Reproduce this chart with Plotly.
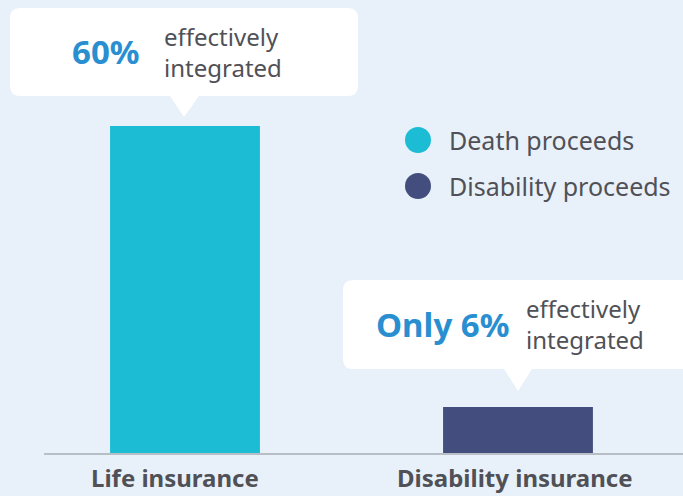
import plotly.graph_objects as go

# ---- data ----
categories = ["Life insurance", "Disability insurance"]
series_names = ["Death proceeds", "Disability proceeds"]
values = [60, 6]                     # % effectively integrated
callout_lead = ["60%", "Only 6%"]
callout_tail = "effectively<br>integrated"

# ---- style ----
W, H = 683, 496
BG = "#e8f0f9"
colors = ["#1bbcd4", "#434e7e"]
BLUE = "#2a8fd0"
GRAY = "#505157"
FONT = "Noto Sans"

ML, MR, MT, MB = 44, 0, 0, 43
PW, PH = W - ML - MR, H - MT - MB
Y_MIN, Y_MAX = -2.84, 84.2
X_MIN, X_MAX = -0.4234, 1.4955


def px(x):
    return (x - ML) / PW


def py(y):
    return (MT + PH - y) / PH


fig = go.Figure()
for i, (name, v, c) in enumerate(zip(series_names, values, colors)):
    fig.add_trace(go.Bar(
        x=[i], y=[v - Y_MIN], base=[Y_MIN], name=name,
        marker=dict(color=c, line=dict(width=0)), width=0.45,
        showlegend=False, hoverinfo="skip",
    ))


def callout(x0, y0, x1, y1, pb0, pb1, tip, r=10):
    tx, ty = tip
    d = (f"M {px(x0 + r)},{py(y0)} L {px(x1 - r)},{py(y0)} "
         f"Q {px(x1)},{py(y0)} {px(x1)},{py(y0 + r)} "
         f"L {px(x1)},{py(y1 - r)} Q {px(x1)},{py(y1)} {px(x1 - r)},{py(y1)} "
         f"L {px(pb1)},{py(y1)} L {px(tx)},{py(ty)} L {px(pb0)},{py(y1)} "
         f"L {px(x0 + r)},{py(y1)} Q {px(x0)},{py(y1)} {px(x0)},{py(y1 - r)} "
         f"L {px(x0)},{py(y0 + r)} Q {px(x0)},{py(y0)} {px(x0 + r)},{py(y0)} Z")
    return dict(type="path", path=d, xref="paper", yref="paper",
                fillcolor="white", line=dict(width=0), layer="above")


shapes = [
    callout(10, 8, 358, 96, 170, 199, (184, 117)),
    callout(343, 280, 720, 369, 504, 532, (518, 391)),
]

annotations = []
# callout texts
lead_pos = [(106, 51), (442, 324)]
tail_pos = [(162, 52), (524, 324)]
for lead, (lx, ly), (tx, ty) in zip(callout_lead, lead_pos, tail_pos):
    annotations.append(dict(text=f"<b>{lead}</b>", x=px(lx), y=py(ly), xref="paper", yref="paper",
                            xanchor="center", yanchor="middle", showarrow=False,
                            font=dict(family=FONT, size=33, color=BLUE)))
    annotations.append(dict(text=callout_tail, x=px(tx), y=py(ty), xref="paper", yref="paper",
                            xanchor="left", yanchor="middle", align="left", showarrow=False,
                            font=dict(family=FONT, size=24, color=GRAY)))

# legend
leg_y = [140, 186]
for name, c, ly in zip(series_names, colors, leg_y):
    shapes.append(dict(type="circle", xref="paper", yref="paper",
                       x0=px(405), x1=px(431), y0=py(ly - 13), y1=py(ly + 13),
                       fillcolor=c, line=dict(width=0)))
    annotations.append(dict(text=name, x=px(447), y=py(ly), xref="paper", yref="paper",
                            xanchor="left", yanchor="middle", showarrow=False,
                            font=dict(family=FONT, size=25, color=GRAY)))

# category labels
cat_shift = [-10, -3]
for i, (cat, sh) in enumerate(zip(categories, cat_shift)):
    annotations.append(dict(text=f"<b>{cat}</b>", x=i, xshift=sh, y=py(496), xref="x", yref="paper",
                            xanchor="center", yanchor="bottom", showarrow=False,
                            font=dict(family=FONT, size=24, color=GRAY)))

fig.update_layout(
    width=W, height=H,
    margin=dict(l=ML, r=MR, t=MT, b=MB, pad=0),
    paper_bgcolor=BG, plot_bgcolor=BG,
    xaxis=dict(range=[X_MIN, X_MAX], showgrid=False, zeroline=False, showticklabels=False,
               ticks="", showline=True, linecolor="#b8bec6", linewidth=2, fixedrange=True),
    yaxis=dict(range=[Y_MIN, Y_MAX], showgrid=False, zeroline=False, showticklabels=False,
               ticks="", showline=False, fixedrange=True),
    shapes=shapes, annotations=annotations,
    barmode="overlay", showlegend=False,
)

fig.write_html("out.html", config={"displayModeBar": False},
               post_script="document.body.style.margin='0';document.body.style.background='" + BG + "';")
